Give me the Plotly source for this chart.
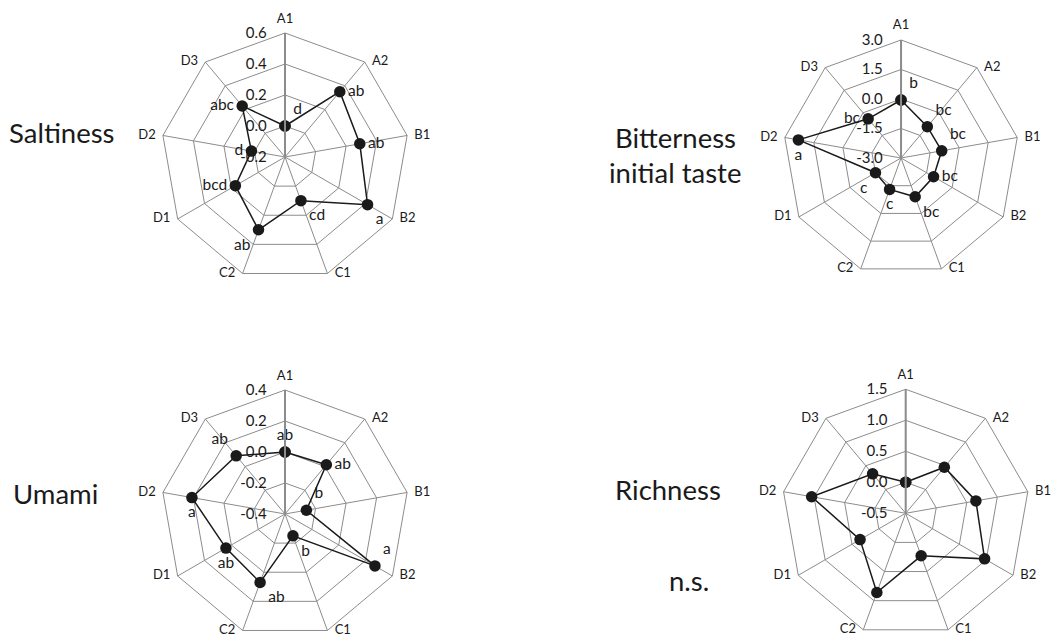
import plotly.graph_objects as go

# Sensory attributes, one radar per attribute
categories = ["A1", "A2", "B1", "B2", "C1", "C2", "D1", "D2", "D3"]

saltiness = [0.00, 0.35, 0.29, 0.415, 0.10, 0.30, 0.17, 0.02, 0.23]
saltiness_sig = ["d", "ab", "ab", "a", "cd", "ab", "bcd", "d", "abc"]
saltiness_ticks = [-0.2, 0.0, 0.2, 0.4, 0.6]
saltiness_ticktext = ["-0.2", "0.0", "0.2", "0.4", "0.6"]

bitterness = [-0.05, -0.92, -0.90, -1.09, -0.90, -1.30, -1.50, 2.30, -0.40]
bitterness_sig = ["b", "bc", "bc", "bc", "bc", "c", "c", "a", "bc"]
bitterness_ticks = [-3.0, -1.5, 0.0, 1.5, 3.0]
bitterness_ticktext = ["-3.0", "-1.5", "0.0", "1.5", "3.0"]

umami = [0.00, 0.015, -0.26, 0.27, -0.25, 0.07, 0.04, 0.21, 0.09]
umami_sig = ["ab", "ab", "b", "a", "b", "ab", "ab", "a", "ab"]
umami_ticks = [-0.4, -0.2, 0.0, 0.2, 0.4]
umami_ticktext = ["-0.4", "-0.2", "0.0", "0.2", "0.4"]

richness = [0.00, 0.47, 0.65, 0.97, 0.23, 0.86, 0.35, 1.04, 0.33]
richness_ticks = [-0.5, 0.0, 0.5, 1.0, 1.5]
richness_ticktext = ["-0.5", "0.0", "0.5", "1.0", "1.5"]

FONT = "Lato"
GRID = "#8c8c8c"
INK = "#1a1a1a"

# where each category name sits next to its spoke end
cat_label_pos = ["top center", "middle right", "middle right", "middle right", "middle right",
                 "middle left", "middle left", "middle left", "middle left"]

panels = [
    dict(name="polar", values=saltiness, sig=saltiness_sig,
         ticks=saltiness_ticks, ticktext=saltiness_ticktext,
         pos=["top right", "middle right", "middle right", "bottom right",
              "bottom right", "bottom left", "middle left", "middle left", "middle left"],
         domain=dict(x=[0.1525, 0.3873], y=[0.563, 0.9487])),
    dict(name="polar2", values=bitterness, sig=bitterness_sig,
         ticks=bitterness_ticks, ticktext=bitterness_ticktext,
         pos=["top right", "top right", "top right", "middle right",
              "bottom right", "bottom center", "bottom left", "bottom center", "middle left"],
         domain=dict(x=[0.7415, 0.9650], y=[0.5708, 0.9378])),
    dict(name="polar3", values=umami, sig=umami_sig,
         ticks=umami_ticks, ticktext=umami_ticktext,
         pos=["top center", "middle right", "top right", "top right",
              "bottom right", "bottom right", "bottom center", "bottom center", "top left"],
         domain=dict(x=[0.1525, 0.3873], y=[0.0078, 0.3935])),
    dict(name="polar4", values=richness, sig=None,
         ticks=richness_ticks, ticktext=richness_ticktext,
         pos=None,
         domain=dict(x=[0.7402, 0.9751], y=[0.0089, 0.3946])),
]

fig = go.Figure()
layout_polars = {}
for p in panels:
    # The radial scale is measured from the innermost tick (the chart centre),
    # so every value is offset by that baseline and the tick text shows the
    # original numbers.
    base = p["ticks"][0]
    span = p["ticks"][-1] - base

    # category names at the outer ring
    fig.add_trace(go.Scatterpolar(
        r=[span] * len(categories), theta=categories, subplot=p["name"],
        mode="markers+text", text=categories, textposition=cat_label_pos,
        textfont=dict(family=FONT, size=13, color=INK),
        marker=dict(size=10, color="rgba(0,0,0,0)"),
        cliponaxis=False, showlegend=False, hoverinfo="skip",
    ))

    # close the polygon by repeating the first vertex
    vals = list(p["values"]) + [p["values"][0]]
    r = [v - base for v in vals]
    theta = categories + [categories[0]]
    text = (list(p["sig"]) + [""]) if p["sig"] else None
    pos = (list(p["pos"]) + ["top center"]) if p["pos"] else None
    fig.add_trace(go.Scatterpolar(
        r=r, theta=theta, subplot=p["name"],
        mode="lines+markers+text" if text else "lines+markers",
        text=text, textposition=pos,
        textfont=dict(family=FONT, size=15.5, color=INK),
        line=dict(color=INK, width=1.5),
        marker=dict(color=INK, size=11.5),
        cliponaxis=False, showlegend=False, hoverinfo="skip",
    ))
    layout_polars[p["name"]] = dict(
        domain=p["domain"],
        gridshape="linear",
        bgcolor="white",
        angularaxis=dict(
            type="category", categoryarray=categories,
            direction="clockwise", rotation=90,
            showline=True, linecolor=GRID, linewidth=1,
            showgrid=True, gridcolor=GRID, gridwidth=1,
            ticks="", showticklabels=False,
        ),
        radialaxis=dict(
            range=[0, span],
            tickvals=[t - base for t in p["ticks"]], ticktext=p["ticktext"],
            angle=90, side="counterclockwise", tickangle=90,
            showline=True, linecolor=GRID, linewidth=2,
            showgrid=True, gridcolor=GRID, gridwidth=1,
            ticks="outside", ticklen=12, tickcolor="rgba(0,0,0,0)",
            tickfont=dict(family=FONT, size=15, color=INK),
        ),
    )

titles = [
    ("Saltiness", 62, 132),
    ("Bitterness", 675, 137),
    ("initial taste", 675, 173),
    ("Umami", 55, 493),
    ("Richness", 668, 490),
    ("n.s.", 689, 580),
]
annotations = [
    dict(text=t, x=x / 1056, y=1 - y / 643, xref="paper", yref="paper",
         xanchor="center", yanchor="middle", showarrow=False,
         font=dict(family=FONT, size=27.5, color=INK))
    for t, x, y in titles
]

fig.update_layout(
    width=1056, height=643,
    margin=dict(l=0, r=0, t=0, b=0),
    paper_bgcolor="white", plot_bgcolor="white",
    annotations=annotations,
    **layout_polars,
)

fig.write_html("out.html")
